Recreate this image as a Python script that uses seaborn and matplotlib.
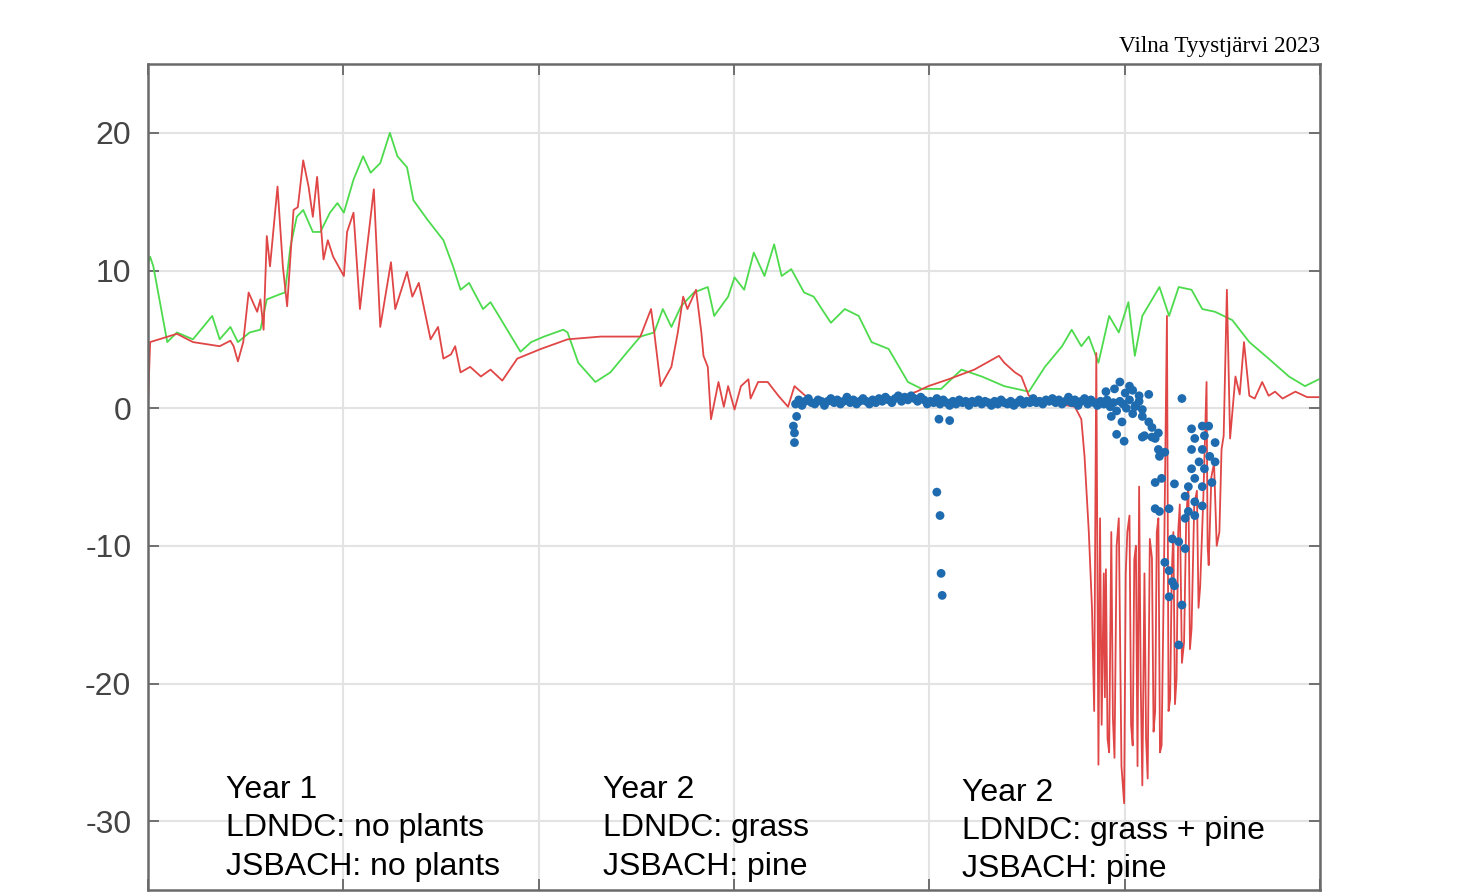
import matplotlib.pyplot as plt
import numpy as np
import seaborn as sns

# JSBACH (green), day of run vs flux
green_day = [0, 2, 5, 18, 27, 42, 60, 67, 77, 84,
             95, 105, 111, 124, 128, 133, 139, 145, 154, 161,
             170, 177, 183, 192, 201, 208, 217, 226, 233, 242,
             248, 261, 276, 285, 292, 300, 313, 320, 348, 358,
             370, 388, 392, 402, 418, 432, 448, 460, 473, 481,
             489, 498, 510, 523, 529, 542, 548, 557, 566, 576,
             585, 592, 601, 613, 622, 638, 651, 664, 676, 692,
             710, 723, 741, 760, 779, 800, 823, 838, 854, 863,
             872, 879, 888, 898, 907, 916, 922, 929, 945, 954,
             963, 975, 985, 997, 1013, 1029, 1047, 1066, 1081, 1094]
green_val = [10.5, 11.0, 10.3, 4.8, 5.5, 5.0, 6.7, 5.0, 5.9, 4.8,
             5.5, 5.7, 7.9, 8.3, 8.4, 11.7, 13.9, 14.4, 12.8, 12.8,
             14.2, 14.9, 14.2, 16.6, 18.3, 17.1, 17.8, 20.0, 18.3, 17.5,
             15.1, 13.7, 12.2, 10.3, 8.6, 9.1, 7.2, 7.7, 4.1, 4.8,
             5.2, 5.7, 5.5, 3.3, 1.9, 2.6, 4.1, 5.2, 5.5, 7.2,
             5.9, 7.4, 8.4, 8.8, 6.7, 8.1, 9.5, 8.6, 11.3, 9.6,
             11.9, 9.6, 10.1, 8.4, 8.1, 6.2, 7.2, 6.7, 4.8, 4.3,
             1.9, 1.4, 1.4, 2.8, 2.3, 1.6, 1.2, 3.0, 4.5, 5.7,
             4.5, 5.2, 3.3, 6.7, 5.5, 7.7, 3.8, 6.7, 8.8, 6.7,
             8.8, 8.6, 7.2, 7.0, 6.4, 4.8, 3.6, 2.3, 1.6, 2.1]

# LDNDC (red)
red_day = [0, 2, 27, 42, 67, 77, 80, 84, 89, 94,
           102, 105, 108, 111, 114, 121, 126, 130, 136, 140,
           145, 150, 154, 158, 164, 168, 173, 183, 186, 192,
           198, 211, 217, 227, 231, 242, 247, 253, 264, 271,
           276, 283, 287, 292, 301, 311, 320, 331, 345, 367,
           392, 423, 460, 470, 473, 479, 489, 495, 500, 504,
           512, 517, 519, 523, 526, 533, 538, 542, 548, 554,
           561, 563, 570, 579, 589, 598, 604, 620, 657, 695,
           718, 729, 748, 772, 795, 800, 810, 816, 823, 844,
           866, 872, 875, 879, 882, 884, 886, 888, 889.5, 891,
           893, 894, 895, 896.5, 898, 900, 901.5, 903, 905, 907,
           909.5, 912, 913.5, 915, 917, 918.5, 920, 921.5, 923, 924.5,
           926, 927.5, 929, 931, 932.5, 934, 936, 938, 939.5, 941,
           942.5, 944, 945.5, 947, 949.5, 952, 953.5, 955, 956.5, 958,
           959.5, 961, 962.5, 964, 966, 968, 970, 972, 973.5, 975,
           977.5, 980, 981.5, 983, 986, 989, 990, 991, 993.5, 996,
           998.5, 1001, 1003, 1005, 1008, 1011, 1016, 1020, 1024, 1029,
           1034, 1041, 1047, 1053, 1060, 1072, 1083, 1094]
red_val = [0.3, 4.8, 5.4, 4.8, 4.5, 4.9, 4.5, 3.4, 4.8, 8.4,
           7.0, 7.9, 5.7, 12.5, 10.3, 16.1, 10.3, 7.4, 14.4, 14.6,
           18.0, 16.1, 13.9, 16.8, 10.8, 12.2, 11.0, 9.6, 12.8, 14.2,
           7.2, 15.9, 5.9, 10.6, 7.2, 9.9, 8.1, 9.1, 5.0, 5.9,
           3.6, 3.9, 4.5, 2.6, 3.0, 2.3, 2.8, 2.0, 3.6, 4.3,
           5.0, 5.2, 5.2, 7.2, 5.5, 1.6, 3.0, 5.5, 8.1, 7.2,
           8.6, 5.5, 3.8, 3.0, -0.8, 1.9, 0.1, 1.6, -0.1, 1.6,
           2.1, 0.7, 1.9, 1.9, 0.9, 0.1, 1.6, 0.5, 0.4, 0.6,
           1.2, 1.6, 2.1, 2.8, 3.8, 3.3, 2.6, 2.3, 0.9, 0.4,
           0.1, -0.8, -3.5, -9.0, -14.6, -22.0, 4.0, -25.9, -8.0, -23.0,
           -12.0, -21.0, -11.7, -24.0, -25.0, -9.0, -22.5, -25.4, -10.0, -8.0,
           -26.0, -28.7, -12.0, -9.0, -7.8, -23.0, -24.5, -11.0, -10.0, -26.0,
           -5.7, -20.0, -27.4, -12.0, -24.0, -26.9, -9.5, -10.9, -23.5, -22.0,
           -9.0, -8.0, -25.0, -24.5, -10.0, 6.7, -22.0, -21.1, -12.0, -9.0,
           -21.5, -19.6, -9.0, -7.0, -18.5, -17.0, -8.0, -5.5, -17.5, -16.0,
           -7.0, -6.0, -14.5, -13.0, -6.5, 1.9, -10.0, -11.4, -5.0, -4.0,
           -10.0, -9.0, -3.0, -2.0, 8.6, -2.2, 2.3, 1.0, 4.8, 0.9,
           0.7, 1.9, 0.9, 1.2, 0.7, 1.2, 0.8, 0.8]

# measurements (blue): the dense band near zero, every third day
band_day = np.arange(605, 930, 3)
band_val = [0.3, 0.6, 0.2, 0.5, 0.7, 0.4, 0.3, 0.6, 0.5, 0.2,
            0.5, 0.7, 0.4, 0.6, 0.3, 0.5, 0.8, 0.4, 0.6, 0.3,
            0.5, 0.7, 0.5, 0.3, 0.6, 0.4, 0.7, 0.5, 0.8, 0.6,
            0.4, 0.7, 0.9, 0.5, 0.8, 0.6, 0.9, 0.7, 0.5, 0.8,
            0.6, 0.3, 0.5, 0.4, 0.7, 0.3, 0.6, 0.4, 0.2, 0.5,
            0.3, 0.6, 0.4, 0.5, 0.2, 0.5, 0.4, 0.6, 0.3, 0.5,
            0.4, 0.2, 0.5, 0.3, 0.6, 0.4, 0.3, 0.5, 0.2, 0.4,
            0.6, 0.3, 0.5, 0.4, 0.7, 0.4, 0.5, 0.3, 0.6, 0.5,
            0.7, 0.4, 0.6, 0.3, 0.5, 0.8, 0.4, 0.6, 0.2, 0.5,
            0.7, 0.3, 0.6, 0.4, 0.2, 0.5, 0.3, 0.6, 0.1, 0.4,
            -0.2, 0.5, 0.3, 0.0, 0.6, -0.4, 0.2, 0.5, -0.1]
# scattered measurements
obs_day = [603, 604, 604, 606, 737, 739, 740, 741, 742, 749,
           895, 900, 903, 905, 908, 910, 912, 913, 917, 920,
           922, 926, 929, 929, 931, 935, 935, 938, 938, 941,
           941, 941, 944, 944, 945, 945, 947, 950, 950, 954,
           954, 954, 957, 957, 959, 959, 963, 963, 966, 966,
           969, 969, 969, 972, 972, 975, 975, 975, 978, 978,
           978, 982, 985, 985, 985, 985, 987, 987, 991, 992,
           994, 997, 997, 978]
obs_val = [-1.3, -2.5, -1.8, -0.6, -6.1, -0.8, -7.8, -12.0, -13.6, -0.9,
           1.2, -0.6, 1.4, -1.9, 1.9, -1.0, -2.4, 1.1, 1.6, 1.3,
           0.1, 0.9, -0.6, -2.1, -2.0, 1.0, -1.0, -2.1, -1.4, -5.4,
           -7.3, -2.2, -3.0, -1.8, -3.5, -7.5, -5.1, -3.2, -11.2, -7.3,
           -11.8, -13.7, -9.5, -12.6, -5.5, -12.9, -9.7, -17.2, 0.7, -14.3,
           -6.4, -8.0, -10.2, -5.7, -7.5, -1.5, -3.0, -4.4, -2.2, -5.1,
           -6.8, -3.9, -1.3, -3.0, -5.7, -7.1, -2.0, -4.4, -1.3, -3.5,
           -5.4, -2.5, -3.9, -7.8]

y_ticks = [-30, -20, -10, 0, 10, 20]
x_ticks = [0, 182.5, 365, 547.5, 730, 912.5, 1095]

sns.set_style("white")
plt.rcParams['font.family'] = ['Liberation Sans', 'DejaVu Sans']

fig = plt.figure(figsize=(14.67, 8.92), dpi=100)
ax = fig.add_axes([148 / 1467, 2 / 892, 1172 / 1467, 826 / 892])

sns.lineplot(x=green_day, y=green_val, color='#4ddb4d', linewidth=1.3,
             sort=False, estimator=None, ax=ax, zorder=2)
sns.lineplot(x=red_day, y=red_val, color='#e04646', linewidth=1.3,
             sort=False, estimator=None, ax=ax, zorder=2.5)
sns.scatterplot(x=np.concatenate([band_day, obs_day]),
                y=np.concatenate([band_val, obs_val]),
                color='#1f6bb0', s=40, edgecolor='none', ax=ax, zorder=3)

ax.set_xlim(0, 1095)
ax.set_ylim(-35, 25)
ax.set_xticks(x_ticks)
ax.set_yticks(y_ticks)
ax.set_xticklabels([])
ax.set_yticklabels([str(t) for t in y_ticks], fontsize=23, color='#444444')
ax.grid(True, color='#e3e3e3', linewidth=1.5)
ax.set_axisbelow(True)
ax.tick_params(axis='y', direction='in', length=8, width=1.3, color='#666666',
               left=True, right=True, pad=12)
ax.tick_params(axis='x', direction='in', length=8, width=1.3, color='#666666',
               top=True, bottom=True, labelbottom=False)
for s in ax.spines.values():
    s.set_color('#6a6a6a')
    s.set_linewidth(1.8)

notes = [(0.0666, 0.139, "Year 1\nLDNDC: no plants\nJSBACH: no plants"),
         (0.388, 0.139, "Year 2\nLDNDC: grass\nJSBACH: pine"),
         (0.6945, 0.136, "Year 2\nLDNDC: grass + pine\nJSBACH: pine")]
for x, y, txt in notes:
    ax.text(x, y, txt, transform=ax.transAxes, ha='left', va='top',
            fontsize=23, linespacing=1.36, color='black', zorder=5)

fig.text(1320 / 1467, 1 - 52 / 892, "Vilna Tyystjärvi 2023", ha='right',
         va='baseline', family=['Liberation Serif', 'DejaVu Serif'],
         fontsize=16.7, color='black')

fig.savefig('out.png', dpi=100)
